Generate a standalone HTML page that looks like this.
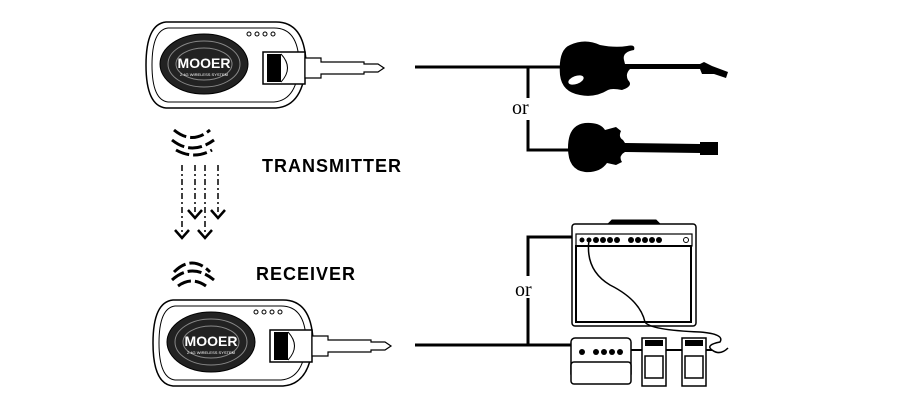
<!DOCTYPE html>
<html><head><meta charset="utf-8"><style>
html,body{margin:0;padding:0;background:#fff;}
svg{display:block}
</style></head><body>
<svg width="898" height="400" viewBox="0 0 898 400" xmlns="http://www.w3.org/2000/svg" font-family="Liberation Sans, sans-serif">
<defs>
<g id="unit">
  <path d="M20,0 H130 Q158,0 160,40 Q158,84 130,86 H20 Q0,84 0,43 Q0,2 20,0Z" fill="#fff" stroke="#000" stroke-width="1.5"/>
  <path d="M22,6 H128 Q152,6 153,40 Q152,78 128,80 H22 Q6,78 6,43 Q6,8 22,6Z" fill="none" stroke="#000" stroke-width="1"/>
  <ellipse cx="58" cy="42" rx="44" ry="30" fill="#222" stroke="#000"/>
  <ellipse cx="58" cy="42" rx="36" ry="23" fill="none" stroke="#888" stroke-width="1"/>
  <ellipse cx="58" cy="42" rx="28" ry="16" fill="none" stroke="#888" stroke-width="1"/>
  <text x="58" y="46" font-size="14" font-weight="bold" fill="#fff" text-anchor="middle">MOOER</text>
  <text x="58" y="54" font-size="4" fill="#fff" text-anchor="middle">2.4G WIRELESS SYSTEM</text>
  <g fill="none" stroke="#000"><circle cx="103" cy="12" r="2"/><circle cx="111" cy="12" r="2"/><circle cx="119" cy="12" r="2"/><circle cx="127" cy="12" r="2"/></g>
  <rect x="117" y="30" width="42" height="32" fill="#fff" stroke="#000" stroke-width="1.5"/>
  <rect x="121" y="32" width="14" height="28" fill="#000"/>
  <path d="M135,32 Q148,46 135,60" fill="none" stroke="#000"/>
  <path d="M159,36 H175 V40 H218 V42 H232 L238,46 L232,50 H218 V52 H175 V56 H159Z" fill="#fff" stroke="#000" stroke-width="1.2"/>
</g>
</defs>
<use href="#unit" x="146" y="22"/>
<use href="#unit" x="153" y="300"/>
<g stroke="#000" stroke-width="3" fill="none">
<path d="M415,67 H562"/><path d="M528,67 V98"/><path d="M528,120 V150 H570"/>
<path d="M415,345 H575"/><path d="M528,345 V298"/><path d="M528,276 V237 H590"/>
</g>
<text x="512" y="114" font-family="Liberation Serif, serif" font-size="20">or</text>
<text x="515" y="296" font-family="Liberation Serif, serif" font-size="20">or</text>
<!-- guitars -->
<path d="M560,75 Q558,50 570,45 Q585,38 600,45 Q615,48 627,46 Q636,44 634,50 Q622,52 624,60 L625,64 L700,64 L704,62 L712,66 L728,72 L726,78 L714,74 L702,74 L700,69 L630,69 Q625,74 628,80 Q634,86 622,90 Q612,88 608,90 Q595,98 580,95 Q562,92 560,75Z" fill="#000"/>
<ellipse cx="576" cy="80" rx="8" ry="4" fill="#fff" transform="rotate(-20 576 80)"/>
<path d="M568,148 Q568,125 585,123 Q600,122 605,130 L616,127 L621,131 Q618,137 623,140 L625,143 L700,144 L700,142 L718,142 L718,155 L700,155 L700,153 L625,152 Q618,156 622,162 L616,165 L607,163 Q600,173 585,172 Q568,170 568,148Z" fill="#000"/>
<!-- waves -->
<g stroke="#000" stroke-width="3" fill="none" stroke-dasharray="14 4">
<path d="M174,130 Q192,145 210,130"/><path d="M172,140 Q192,156 214,140"/><path d="M176,150 Q194,160 212,150"/>
<path d="M174,272 Q192,254 210,272"/><path d="M172,280 Q192,262 214,280"/><path d="M178,286 Q192,276 206,286"/>
</g>
<g stroke="#000" stroke-width="1.5" fill="none" stroke-dasharray="6 3 2 3">
<path d="M182,165 V232"/><path d="M195,165 V212"/><path d="M205,165 V232"/><path d="M218,165 V212"/>
</g>
<g stroke="#000" stroke-width="2.5" fill="none">
<path d="M175,230 L182,238 L189,230"/><path d="M198,230 L205,238 L212,230"/>
<path d="M188,210 L195,218 L202,210"/><path d="M211,210 L218,218 L225,210"/>
</g>
<text x="262" y="172" font-size="18" font-weight="bold" letter-spacing="1">TRANSMITTER</text>
<text x="256" y="280" font-size="18" font-weight="bold" letter-spacing="1">RECEIVER</text>
<!-- amp -->
<g stroke="#000" fill="#fff">
<rect x="572" y="224" width="124" height="102" rx="3" stroke-width="1.5"/>
<rect x="576" y="234" width="116" height="12" stroke-width="1.2"/>
<rect x="576" y="246" width="115" height="76" fill="none" stroke-width="2"/>
<path d="M608,224 L612,220 H656 L660,224" fill="#000"/>
</g>
<g fill="#000"><circle cx="582" cy="240" r="2.5"/><circle cx="589" cy="240" r="2.5"/><circle cx="596" cy="240" r="3"/><circle cx="603" cy="240" r="3"/><circle cx="610" cy="240" r="3"/><circle cx="617" cy="240" r="3"/><circle cx="631" cy="240" r="3"/><circle cx="638" cy="240" r="3"/><circle cx="645" cy="240" r="3"/><circle cx="652" cy="240" r="3"/><circle cx="659" cy="240" r="3"/><circle cx="686" cy="240" r="2.5" fill="none" stroke="#000"/></g>
<path d="M589,240 Q585,270 610,285 Q640,300 645,322 Q650,330 700,332 Q725,334 720,342 Q705,345 712,350 Q720,356 728,348" fill="none" stroke="#000" stroke-width="1.5"/>
<!-- pedals -->
<g stroke="#000" fill="#fff" stroke-width="1.5">
<rect x="571" y="338" width="60" height="40" rx="4"/>
<rect x="571" y="362" width="60" height="22" rx="3"/>
<rect x="642" y="338" width="24" height="48"/><rect x="645" y="356" width="18" height="22"/>
<rect x="682" y="338" width="24" height="48"/><rect x="685" y="356" width="18" height="22"/>
</g>
<g fill="#000"><circle cx="582" cy="352" r="3"/><circle cx="596" cy="352" r="3"/><circle cx="604" cy="352" r="3"/><circle cx="612" cy="352" r="3"/><circle cx="620" cy="352" r="3"/>
<rect x="645" y="340" width="18" height="6"/><rect x="685" y="340" width="18" height="6"/></g>
<path d="M631,350 H642 M666,350 H682 M706,350 H712" stroke="#000" stroke-width="2"/>
</svg>
</body></html>
